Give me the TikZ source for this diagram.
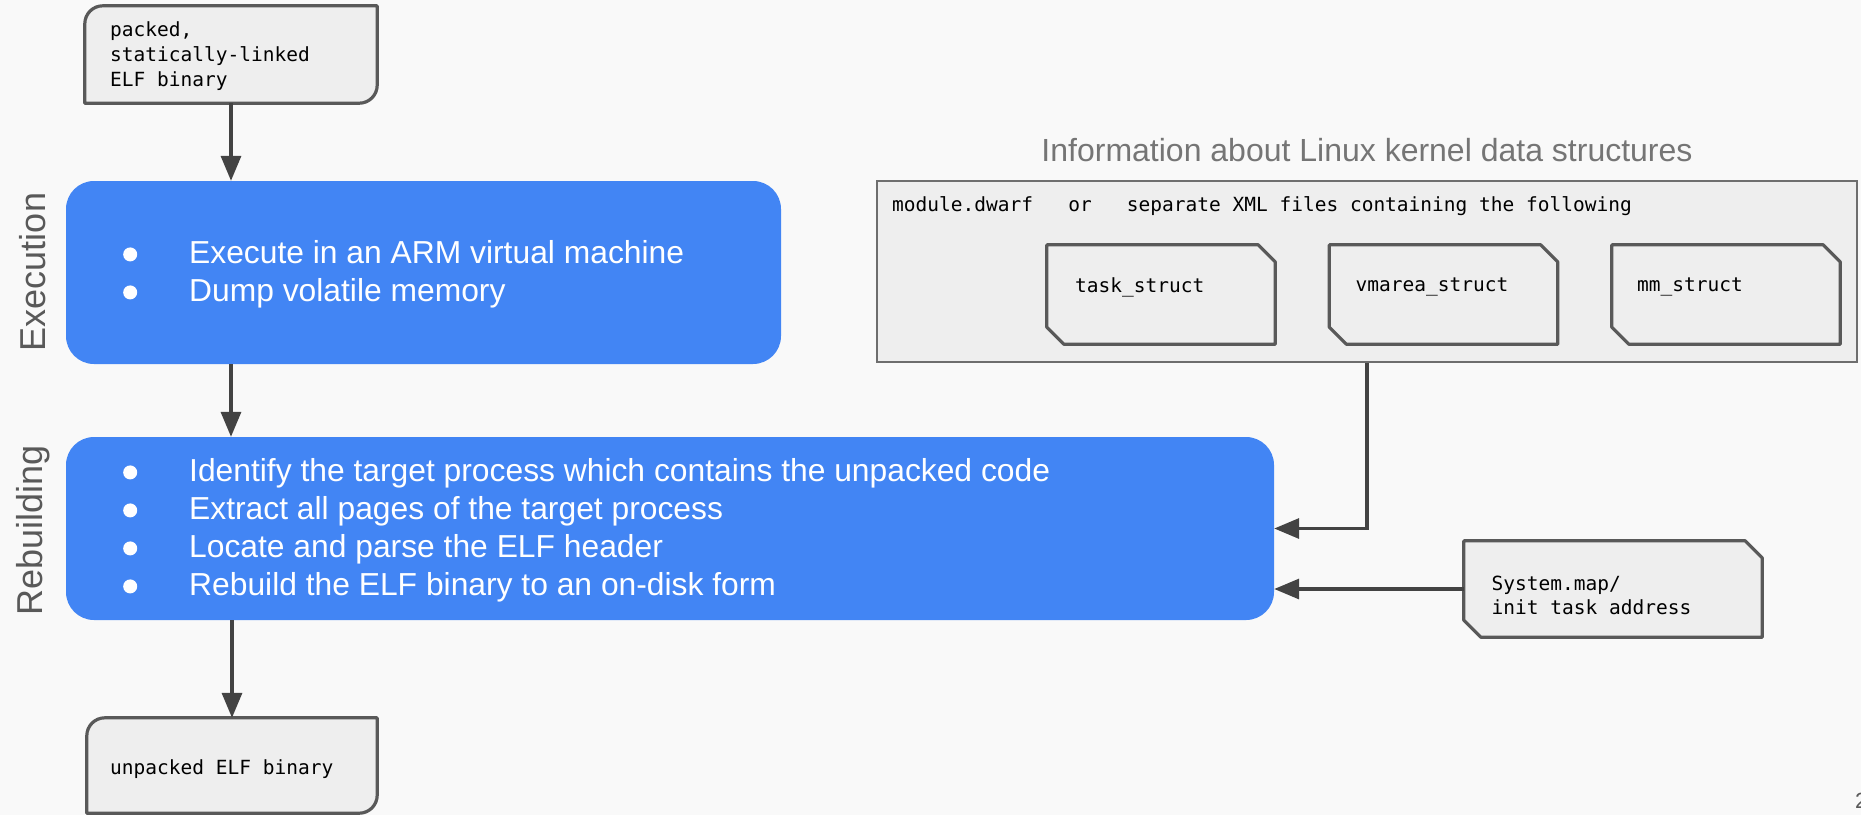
\documentclass[tikz,border=0pt]{standalone}
\usepackage{fontspec}
\setmainfont{Liberation Sans}
\newfontfamily\monof{DejaVu Sans Mono}
\usetikzlibrary{arrows.meta,calc}
\definecolor{bgc}{HTML}{F9F9F9}
\definecolor{boxfill}{HTML}{EEEEEE}
\definecolor{outc}{HTML}{595959}
\definecolor{arrc}{HTML}{434343}
\definecolor{gblue}{HTML}{4285F4}
\definecolor{titc}{HTML}{757575}
\definecolor{infoc}{HTML}{6E6E6E}
\newcommand\bul{\tikz[baseline=0pt]\fill[white] (7pt,8.8pt) circle[radius=7pt];}
\newcommand\bitem[1]{\makebox[66pt][l]{\bul}#1}
\newcommand\snipbox[2]{\draw[outl] (#1.north west) -- ($(#1.north east)+(-#2,0)$) -- ($(#1.north east)+(0,#2)$) -- (#1.south east) -- ($(#1.south west)+(#2,0)$) -- ($(#1.south west)+(0,-#2)$) -- cycle;}
\newcommand\roundbox[2]{\draw[outl] (#1.south west) -- ($(#1.north west)+(0,#2)$) .. controls ($(#1.north west)+(0,0.448*#2)$) and ($(#1.north west)+(0.448*#2,0)$) .. ($(#1.north west)+(#2,0)$) -- (#1.north east) -- ($(#1.south east)+(0,-#2)$) .. controls ($(#1.south east)+(0,-0.448*#2)$) and ($(#1.south east)+(-0.448*#2,0)$) .. ($(#1.south east)+(-#2,0)$) -- cycle;}
\begin{document}
\begin{tikzpicture}[x=1pt,y=-1pt,
  mono/.style={font=\monof\fontsize{19.5}{25}\selectfont, text=black, align=left, inner sep=0pt, anchor=west},
  stagebox/.style={rectangle, rounded corners=28pt, fill=gblue, inner sep=0pt},
  bulltext/.style={font=\fontsize{31.8}{38}\selectfont, text=white, align=left, inner sep=0pt, anchor=west},
  sidelabel/.style={font=\fontsize{36}{40}\selectfont, text=outc, rotate=90, inner sep=0pt},
  framebox/.style={rectangle, inner sep=0pt},
  outl/.style={draw=outc, fill=boxfill, line width=3.2pt, line join=round},
  conn/.style={draw=arrc, line width=3.3pt},
  arr/.style={conn, -{Triangle[length=25pt,width=20pt]}},
]
\fill[bgc] (0,0) rectangle (1861,815);
\useasboundingbox (0,0) rectangle (1861,815);

% top input box
\node[framebox, minimum width=292pt, minimum height=97pt] (packed) at (231,54.5) {};
\roundbox{packed}{18}
\node[mono] (packedtxt) at (110,56.5) {packed,\\statically-linked\\ELF binary};

% execution stage
\node[stagebox, minimum width=715pt, minimum height=183pt] (exec) at (423.5,272.5) {};
\node[bulltext] (exectxt) at (123,274) {\bitem{Execute in an ARM virtual machine}\\\bitem{Dump volatile memory}};
\node[sidelabel] (execlbl) at (33,272) {Execution};

% rebuilding stage
\node[stagebox, minimum width=1208pt, minimum height=183pt] (rebuild) at (670,528.5) {};
\node[bulltext] (rebuildtxt) at (123,530) {\bitem{Identify the target process which contains the unpacked code}\\\bitem{Extract all pages of the target process}\\\bitem{Locate and parse the ELF header}\\\bitem{Rebuild the ELF binary to an on-disk form}};
\node[sidelabel] (rebuildlbl) at (33,530) {Rebuilding};

% output box
\node[framebox, minimum width=290pt, minimum height=95pt] (unpacked) at (232,765.5) {};
\roundbox{unpacked}{18}
\node[mono] (unpackedtxt) at (110,769) {unpacked ELF binary};

% kernel info
\node[font=\fontsize{32}{36}\selectfont, text=titc, inner sep=0pt] (title) at (1367,150) {Information about Linux kernel data structures};
\node[rectangle, draw=infoc, line width=2pt, fill=boxfill, minimum width=980pt, minimum height=181pt, inner sep=0pt] (info) at (1367,271.5) {};
\node[mono] (infotxt) at (892,206) {module.dwarf\ \ \ or\ \ \ separate XML files containing the following};

\node[framebox, minimum width=228pt, minimum height=99pt] (task) at (1161,294.5) {};
\snipbox{task}{17}
\node[mono] (tasktxt) at (1075,287) {task\_struct};
\node[framebox, minimum width=228pt, minimum height=99pt] (vmarea) at (1443.5,294.5) {};
\snipbox{vmarea}{17}
\node[mono] (vmareatxt) at (1355.5,287) {vmarea\_struct};
\node[framebox, minimum width=228pt, minimum height=99pt] (mm) at (1726,294.5) {};
\snipbox{mm}{17}
\node[mono] (mmtxt) at (1637,287) {mm\_struct};

% System.map
\node[framebox, minimum width=298pt, minimum height=96pt] (sysmap) at (1613,589) {};
\snipbox{sysmap}{17}
\node[mono, font=\monof\fontsize{19.5}{24}\selectfont] (sysmaptxt) at (1491.5,595) {System.map/\\init task address};

% connectors
\draw[arr] (packed.south) -- (packed.south |- exec.north);
\draw[arr] (packed.south |- exec.south) -- (packed.south |- rebuild.north);
\draw[arr] (unpacked.north |- rebuild.south) -- (unpacked.north);
\draw[arr] (info.south) |- (rebuild.east);
\draw[arr] (sysmap.west) -- (sysmap.west -| rebuild.east);

% page number fragment
\node[font=\fontsize{22}{24}\selectfont, text=outc, anchor=west, inner sep=0pt] (pagenum) at (1855,801) {2};
\end{tikzpicture}
\end{document}
